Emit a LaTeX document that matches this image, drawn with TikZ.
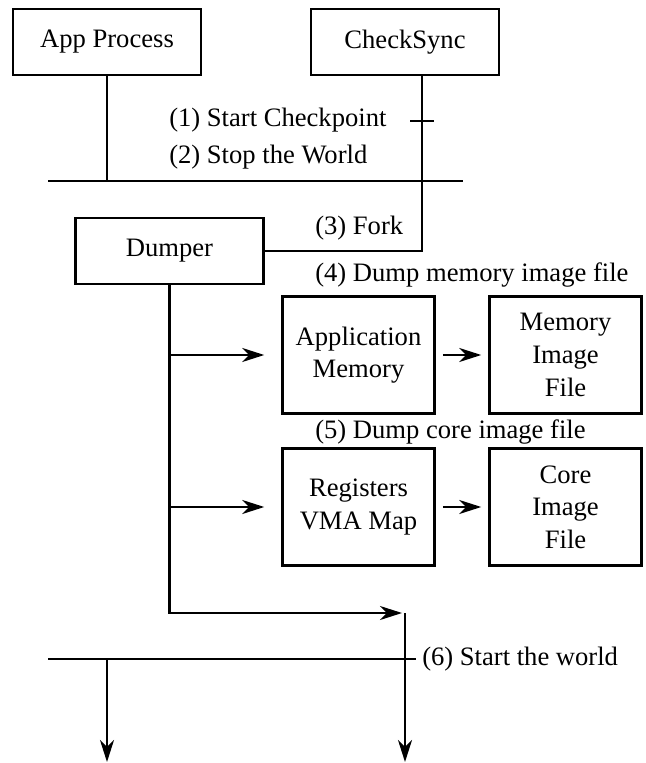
\documentclass[tikz,border=0pt]{standalone}
\usepackage{fontspec}
\setmainfont{Liberation Serif}
\usetikzlibrary{arrows.meta}

\begin{document}
\begin{tikzpicture}[
		x=0.5pt, y=-0.5pt,
		line width=1.25pt,
		every node/.style={font=\fontsize{13.3}{16.3}\selectfont},
		proc/.style={draw, rectangle, minimum width=94pt, minimum height=33pt, inner sep=0pt},
		part/.style={draw, rectangle, minimum width=76pt, minimum height=58.5pt, inner sep=0pt, align=center},
		note/.style={anchor=west, inner sep=0pt},
		flow/.style={-{Stealth[length=11pt,width=7pt,inset=3.5pt]}}
		]
		\useasboundingbox (0,0) rectangle (645,763);
		% processes
		\node[proc] (app) at (107,42) {App Process};
		\node[proc] (sync) at (405,42) {CheckSync};
		\node[proc] (dumper) at (169.5,251) {Dumper};
		\node[part] (appmem) at (358.5,355) {Application\\Memory};
		\node[part] (memfile) at (565.5,355) {Memory\\Image\\File};
		\node[part] (regs) at (358.5,507) {Registers\\VMA Map};
		\node[part] (corefile) at (565.5,507) {Core\\Image\\File};
		% steps
		\node[note] (ckpt) at (168,120) {(1) Start Checkpoint};
		\node[note] (stop) at (168,157) {(2) Stop the World};
		\node[note] (fork) at (314,228) {(3) Fork};
		\node[note] (dumpmem) at (314,275) {(4) Dump memory image file};
		\node[note] (dumpcore) at (314,432) {(5) Dump core image file};
		\node[note] (start) at (421,659) {(6) Start the world};
		
		\coordinate (tick) at (422,121);
		\coordinate (bar1l) at (48,181);
		\coordinate (bar1r) at (463,181);
		\coordinate (join) at (405,613);
		\coordinate (bar2l) at (48,659);
		\coordinate (bottom) at (0,762);
		
		\draw (bar1l) -- (bar1r);
		\draw (app.south) -- (app.south |- bar1l);
		\draw (dumper.east) -| (tick |- sync.south);
		\draw ([xshift=-6pt]tick) -- ([xshift=6pt]tick);
		\draw[flow] (dumper.south) |- ([xshift=-1.5pt]join);
		\draw[flow] (dumper.south |- appmem.west) -- ([xshift=-8.5pt]appmem.west);
		\draw[flow] (dumper.south |- regs.west) -- ([xshift=-8.5pt]regs.west);
		\draw[flow, shorten <=3.5pt, shorten >=3.5pt] (appmem) -- (memfile);
		\draw[flow, shorten <=3.5pt, shorten >=3.5pt] (regs) -- (corefile);
		\draw (bar2l) -- ([xshift=-2.5pt]start.west);
		\draw[flow] (join) -- (join |- bottom);
		\draw[flow] (app.south |- bar2l) -- (app.south |- bottom);
	\end{tikzpicture}
\end{document}
